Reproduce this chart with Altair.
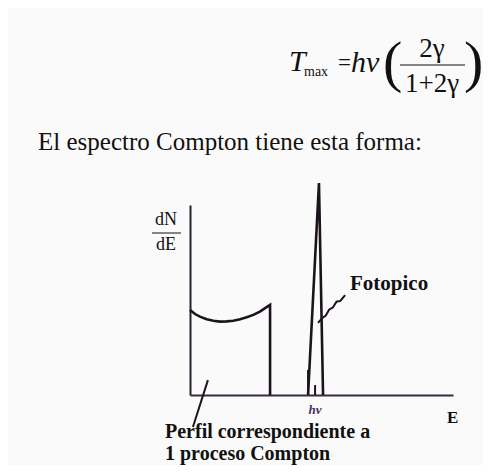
import altair as alt
import pandas as pd

# ---- data (energy in keV, dN/dE in arbitrary units) ----
cont_E = [0, 26, 51, 86, 120, 154, 188, 222, 257, 291, 325, 359, 397, 411, 411]
cont_N = [39.4, 37.5, 36.3, 35.1, 34.4, 34.0, 34.1, 34.4, 35.1, 36.0, 37.1, 38.6, 40.9, 41.7, 0]
peak_E = [606, 662, 683]
peak_N = [0, 98.2, 0]
tick_E = [606, 642]
tick_N = [11.6, 4.6]
lead_perfil_E = [92, 15]
lead_perfil_N = [6.9, -14.8]
lead_foto_E = [796, 772, 752, 734, 714, 697, 678, 657]
lead_foto_N = [46.3, 43.6, 43.2, 40.6, 39.5, 36.8, 35.6, 33.4]

rows = []
for i, (e, n) in enumerate(zip(cont_E, cont_N)):
    rows.append({"seg": "cont", "o": i, "E": e, "N": n})
for i, (e, n) in enumerate(zip(peak_E, peak_N)):
    rows.append({"seg": "peak", "o": i, "E": e, "N": n})
spec = pd.DataFrame(rows)

lead_rows = []
for i, (e, n) in enumerate(zip(lead_perfil_E, lead_perfil_N)):
    lead_rows.append({"seg": "perfil", "o": i, "E": e, "N": n})
for i, (e, n) in enumerate(zip(lead_foto_E, lead_foto_N)):
    lead_rows.append({"seg": "foto", "o": i, "E": e, "N": n})
leads = pd.DataFrame(lead_rows)

ticks = pd.DataFrame({"E": tick_E, "N": tick_N, "N0": [0, 0]})

X = alt.X("E:Q", scale=alt.Scale(domain=[0, 1350], nice=False, zero=False), axis=alt.Axis(
    domain=True, domainColor="#3a2a40", domainWidth=2.2, ticks=False, labels=False, grid=False, title=None))
Y = alt.Y("N:Q", scale=alt.Scale(domain=[0, 88], nice=False, zero=False), axis=alt.Axis(
    domain=True, domainColor="#2a2030", domainWidth=2, ticks=False, labels=False, grid=False, title=None))

ink = "#1c141c"

spectrum = alt.Chart(spec).mark_line(color=ink, strokeWidth=2.6, clip=False, strokeJoin="miter").encode(
    x=X, y=Y, detail="seg:N", order="o:Q")

tick_rules = alt.Chart(ticks).mark_rule(color=ink, strokeWidth=2, clip=False).encode(
    x="E:Q", y="N0:Q", y2="N:Q")

leaders = alt.Chart(leads).mark_line(color=ink, strokeWidth=2, clip=False).encode(
    x="E:Q", y="N:Q", detail="seg:N", order="o:Q")

def txt(s, x, y, size, font="Liberation Serif", style="normal", weight="normal", align="left", color="#111111"):
    return alt.Chart(pd.DataFrame({"t": [s]})).mark_text(
        text=s, font=font, fontSize=size, fontStyle=style, fontWeight=weight,
        align=align, baseline="middle", color=color
    ).encode(x=alt.value(x), y=alt.value(y))

def hline(x1, x2, y, w=1.2):
    return alt.Chart(pd.DataFrame({"a": [0]})).mark_rule(color="#111111", strokeWidth=w).encode(
        x=alt.value(x1), x2=alt.value(x2), y=alt.value(y))

texts = [
    # formula
    txt("T", 99, -143, 30, style="italic"),
    txt("max", 114, -133, 14),
    txt("=", 148, -142, 23),
    txt("hν", 161, -142, 30, style="italic"),
    txt("(", 193, -141, 58),
    txt("2γ", 242, -156, 27, align="center"),
    hline(210, 275, -140),
    txt("1+2γ", 242, -121, 27, align="center"),
    txt(")", 274, -141, 58),
    # sentence
    txt("El espectro Compton tiene esta forma:", -152, -63, 25),
    # y label
    txt("dN", -24, 15, 18, align="center"),
    hline(-38, -9, 28, 1),
    txt("dE", -24, 40, 18, align="center"),
    # annotations
    txt("Fotopico", 160, 79, 21, weight="bold"),
    txt("E", 257, 213, 17, weight="bold"),
    txt("hν", 125, 205, 13, style="italic", weight="bold", color="#4a3060", align="center"),
    txt("Perfil correspondiente a", -25, 227, 20, weight="bold"),
    txt("1 proceso Compton", -25, 249, 20, weight="bold"),
]

chart = alt.layer(spectrum, tick_rules, leaders, *texts).properties(
    width=263, height=190,
    autosize=alt.AutoSizeParams(type="none"),
    padding={"left": 182, "top": 197, "right": 30, "bottom": 70},
    background="#fafafa",
).configure_view(stroke=None)

chart.save("out.html", embed_options={"renderer": "svg", "actions": False})
